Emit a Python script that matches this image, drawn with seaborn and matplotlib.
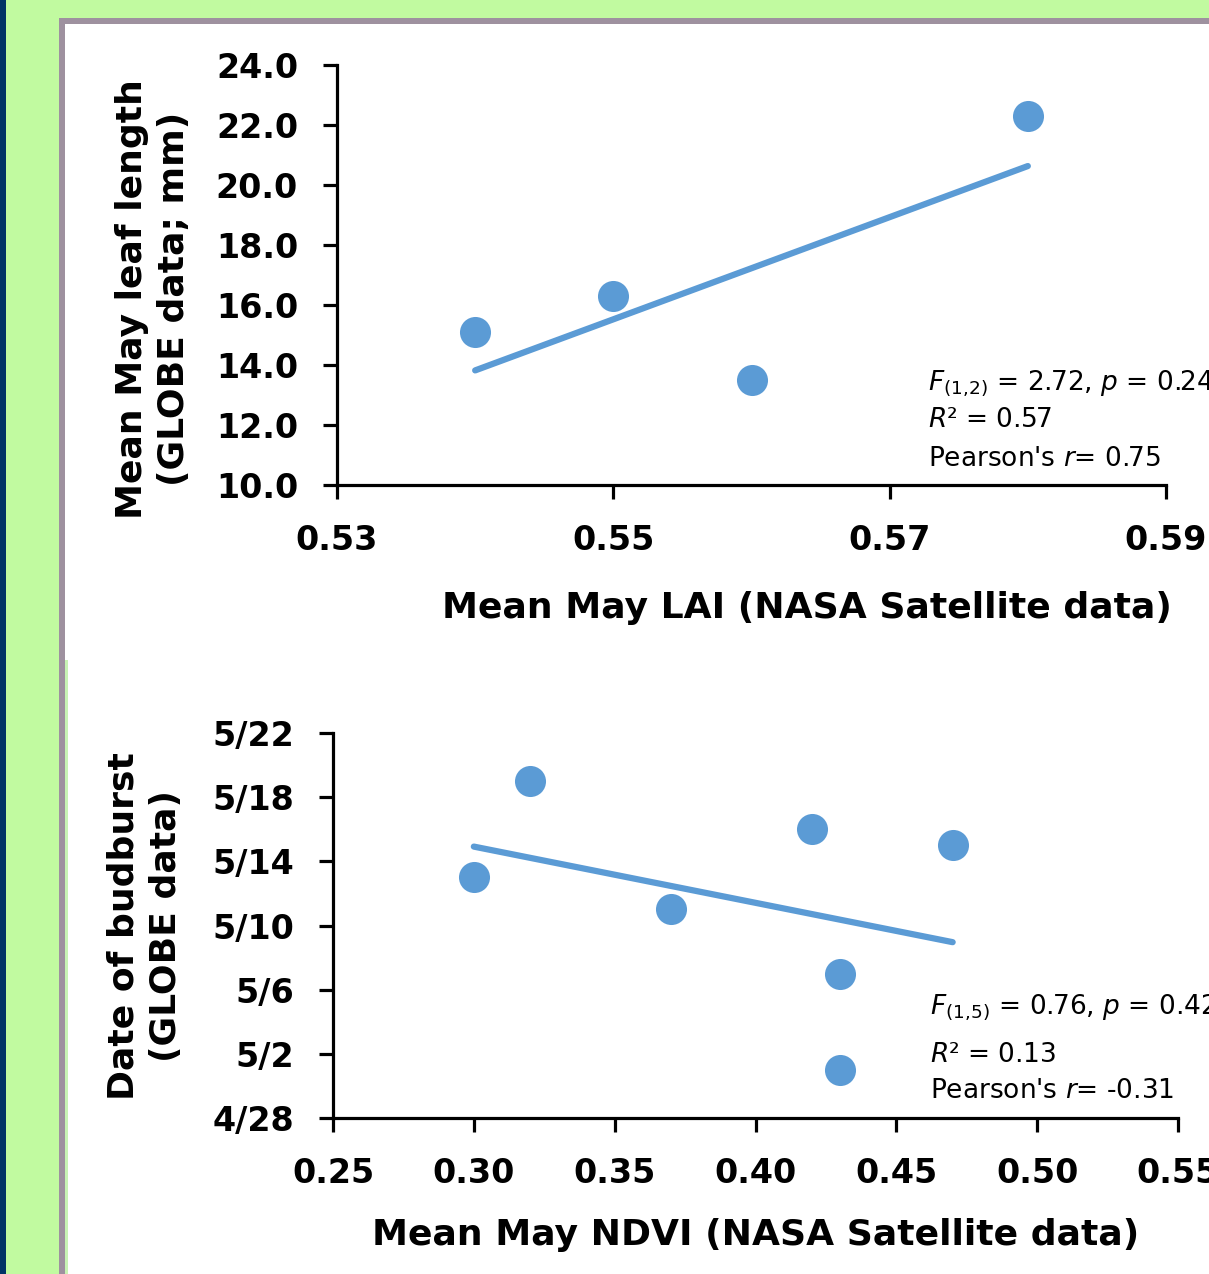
import matplotlib
matplotlib.use("Agg")
from datetime import datetime
import numpy as np
import pandas as pd
import seaborn as sns
import matplotlib.pyplot as plt
import matplotlib.dates as mdates
from matplotlib.patches import Rectangle

# top panel: LAI vs leaf length
lai = [0.54, 0.55, 0.56, 0.58]
leaf_len = [15.1, 16.3, 13.5, 22.3]
lai_ticks = [0.53, 0.55, 0.57, 0.59]
leaf_ticks = [10, 12, 14, 16, 18, 20, 22, 24]
top_stats = [r"$F_{(1,\!2)}$ = 2.72, $p$ = 0.24", "$R$² = 0.57", "Pearson's $r$= 0.75"]

# bottom panel: NDVI vs budburst date
ndvi = [0.30, 0.32, 0.37, 0.42, 0.43, 0.43, 0.47]
budburst = ["5/13", "5/19", "5/11", "5/16", "5/7", "5/1", "5/15"]
ndvi_ticks = [0.25, 0.30, 0.35, 0.40, 0.45, 0.50, 0.55]
date_ticks = ["4/28", "5/2", "5/6", "5/10", "5/14", "5/18", "5/22"]
bot_stats = [r"$F_{(1,\!5)}$ = 0.76, $p$ = 0.42", "$R$² = 0.13", "Pearson's $r$= -0.31"]

BLUE = "#5B9BD5"
GREEN = "#C1FAA0"
NAVY = "#003366"
GREY = "#9E919F"

W, H = 1209, 1274


def to_num(s):
    m, d = s.split("/")
    return mdates.date2num(datetime(2014, int(m), int(d)))


def fx(x):
    return x / W


def fy(y):
    return 1 - y / H


sns.set_style("ticks")
plt.rcParams["font.family"] = ["DejaVu Sans"]
plt.rcParams.update({
    "axes.linewidth": 2.3,
    "axes.edgecolor": "black",
    "axes.labelcolor": "black",
    "text.color": "black",
    "xtick.color": "black",
    "ytick.color": "black",
})

fig = plt.figure(figsize=(W / 100, H / 100), dpi=100)
fig.patch.set_facecolor(GREEN)


def box(x0, y0, x1, y1, color):
    fig.add_artist(Rectangle((fx(x0), fy(y1)), fx(x1 - x0), (y1 - y0) / H,
                             transform=fig.transFigure, color=color, lw=0, zorder=-5))


box(0, 0, 6, H, NAVY)
box(59, 18, W, H, GREY)
box(65, 24, W, H, "white")
box(65, 660, 68, H, "#C8F3B4")


def style_axis(ax):
    sns.despine(ax=ax)
    ax.set_facecolor("none")
    ax.tick_params(direction="out", length=10, width=2.3, colors="black",
                   labelsize=24, pad=18)
    for lab in ax.get_xticklabels() + ax.get_yticklabels():
        lab.set_fontweight("bold")


# top
ax1 = fig.add_axes([fx(337), fy(485), fx(1166 - 337), (485 - 65) / H])
sns.regplot(x=lai, y=leaf_len, ax=ax1, ci=None, color=BLUE,
            scatter_kws=dict(s=500, alpha=1, linewidths=0),
            line_kws=dict(lw=4.5, solid_capstyle="round"))
ax1.set_xlim(0.53, 0.59)
ax1.set_ylim(10, 24)
ax1.set_xticks(lai_ticks)
ax1.set_xticklabels([f"{t:.2f}" for t in lai_ticks])
ax1.set_yticks(leaf_ticks)
ax1.set_yticklabels([f"{t:.1f}" for t in leaf_ticks])
style_axis(ax1)
ax1.set_xlabel("Mean May LAI (NASA Satellite data)", fontsize=26, fontweight="bold")
ax1.xaxis.set_label_coords((807 - 337) / (1166 - 337), (485 - 608) / 420)
ax1.xaxis.label.set_va("center")
ax1.set_ylabel("Mean May leaf length\n(GLOBE data; mm)", fontsize=26,
               fontweight="bold", linespacing=1.3)
ax1.yaxis.set_label_coords((153 - 337) / (1166 - 337), (485 - 299) / 420)
ax1.yaxis.label.set_va("center")

for txt, yb in zip(top_stats, [390, 427, 466]):
    fig.text(fx(928), fy(yb), txt, fontsize=19, va="baseline", ha="left")

# bottom
ax2 = fig.add_axes([fx(333), fy(1118), fx(1178 - 333), (1118 - 733) / H])
sns.regplot(x=ndvi, y=[to_num(d) for d in budburst], ax=ax2, ci=None, color=BLUE,
            scatter_kws=dict(s=500, alpha=1, linewidths=0),
            line_kws=dict(lw=4.5, solid_capstyle="round"))
ax2.set_xlim(0.25, 0.55)
ax2.set_ylim(to_num(date_ticks[0]), to_num(date_ticks[-1]))
ax2.set_xticks(ndvi_ticks)
ax2.set_xticklabels([f"{t:.2f}" for t in ndvi_ticks])
ax2.set_yticks([to_num(d) for d in date_ticks])
ax2.set_yticklabels(date_ticks)
style_axis(ax2)
ax2.set_xlabel("Mean May NDVI (NASA Satellite data)", fontsize=26, fontweight="bold")
ax2.xaxis.set_label_coords(0.5, (1118 - 1235) / 385)
ax2.xaxis.label.set_va("center")
ax2.set_ylabel("Date of budburst\n(GLOBE data)", fontsize=26,
               fontweight="bold", linespacing=1.3)
ax2.yaxis.set_label_coords((145 - 333) / (1178 - 333), (1118 - 926) / 385)
ax2.yaxis.label.set_va("center")

for txt, yb in zip(bot_stats, [1013, 1062, 1098]):
    fig.text(fx(930), fy(yb), txt, fontsize=19, va="baseline", ha="left")

fig.savefig("out.png", dpi=100)
